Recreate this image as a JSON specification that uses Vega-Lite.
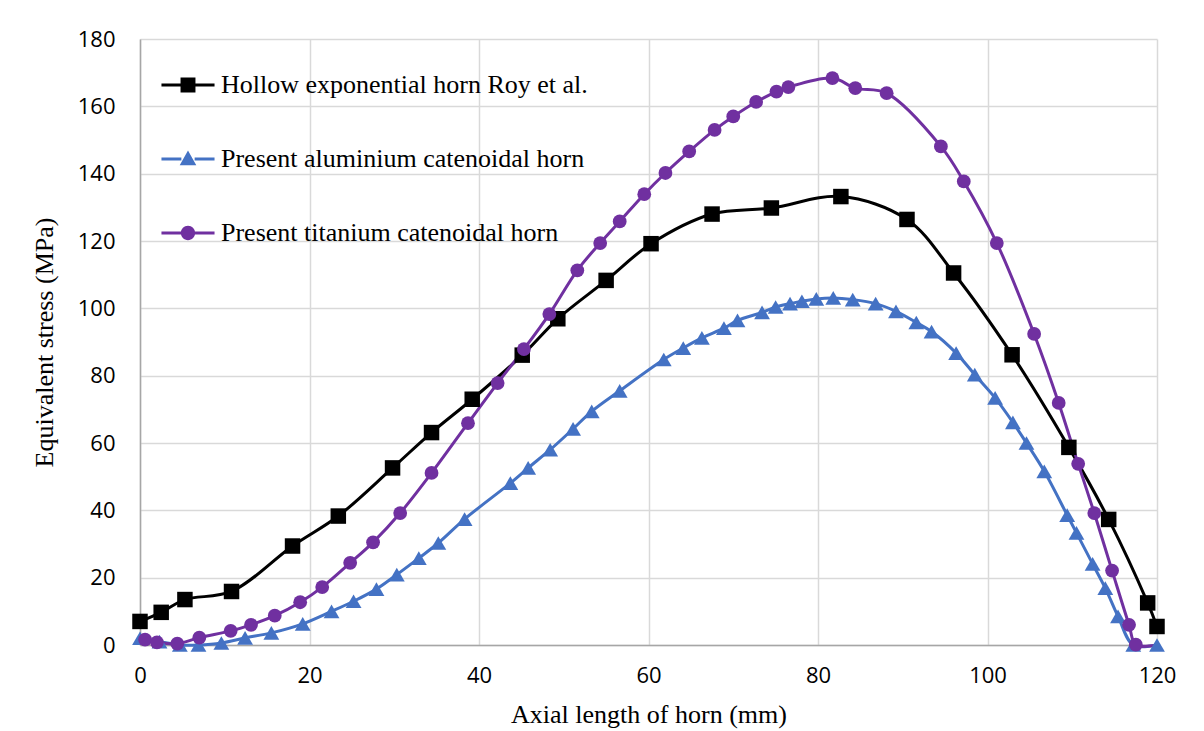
{
  "$schema": "https://vega.github.io/schema/vega-lite/v6.json",
  "width": 1017,
  "height": 606,
  "autosize": {"type": "none"},
  "padding": {"left": 140, "top": 39, "right": 47, "bottom": 86},
  "background": "white",
  "config": {
    "view": {"stroke": null},
    "axis": {
      "grid": true,
      "gridColor": "#d9d9d9",
      "gridWidth": 1.5,
      "domainColor": "#a6a6a6",
      "domainWidth": 1.5,
      "ticks": false,
      "labelFlush": false,
      "labelFont": "Open Sans",
      "labelFontSize": 22,
      "labelColor": "#000000",
      "titleFont": "Liberation Serif",
      "titleFontSize": 26,
      "titleFontWeight": "normal",
      "titleColor": "#000000"
    }
  },
  "data": {
    "values": [
      {"x": 0, "stress": 7.0, "series": "Hollow exponential horn Roy et al."},
      {"x": 2.5, "stress": 9.7, "series": "Hollow exponential horn Roy et al."},
      {"x": 5.3, "stress": 13.5, "series": "Hollow exponential horn Roy et al."},
      {"x": 10.8, "stress": 15.9, "series": "Hollow exponential horn Roy et al."},
      {"x": 18.0, "stress": 29.4, "series": "Hollow exponential horn Roy et al."},
      {"x": 23.4, "stress": 38.3, "series": "Hollow exponential horn Roy et al."},
      {"x": 29.8, "stress": 52.6, "series": "Hollow exponential horn Roy et al."},
      {"x": 34.4, "stress": 63.1, "series": "Hollow exponential horn Roy et al."},
      {"x": 39.2, "stress": 73.0, "series": "Hollow exponential horn Roy et al."},
      {"x": 45.1, "stress": 86.1, "series": "Hollow exponential horn Roy et al."},
      {"x": 49.3, "stress": 96.9, "series": "Hollow exponential horn Roy et al."},
      {"x": 55.0, "stress": 108.3, "series": "Hollow exponential horn Roy et al."},
      {"x": 60.3, "stress": 119.2, "series": "Hollow exponential horn Roy et al."},
      {"x": 67.5, "stress": 128.0, "series": "Hollow exponential horn Roy et al."},
      {"x": 74.5, "stress": 129.8, "series": "Hollow exponential horn Roy et al."},
      {"x": 82.7, "stress": 133.2, "series": "Hollow exponential horn Roy et al."},
      {"x": 90.5, "stress": 126.4, "series": "Hollow exponential horn Roy et al."},
      {"x": 96.0, "stress": 110.5, "series": "Hollow exponential horn Roy et al."},
      {"x": 102.9, "stress": 86.2, "series": "Hollow exponential horn Roy et al."},
      {"x": 109.6, "stress": 58.7, "series": "Hollow exponential horn Roy et al."},
      {"x": 114.3, "stress": 37.3, "series": "Hollow exponential horn Roy et al."},
      {"x": 118.9, "stress": 12.5, "series": "Hollow exponential horn Roy et al."},
      {"x": 120, "stress": 5.5, "series": "Hollow exponential horn Roy et al."},

      {"x": 0, "stress": 2.0, "series": "Present aluminium catenoidal horn"},
      {"x": 2.3, "stress": 1.0, "series": "Present aluminium catenoidal horn"},
      {"x": 4.7, "stress": 0, "series": "Present aluminium catenoidal horn"},
      {"x": 6.9, "stress": 0, "series": "Present aluminium catenoidal horn"},
      {"x": 9.6, "stress": 0.6, "series": "Present aluminium catenoidal horn"},
      {"x": 12.4, "stress": 2.1, "series": "Present aluminium catenoidal horn"},
      {"x": 15.5, "stress": 3.6, "series": "Present aluminium catenoidal horn"},
      {"x": 19.2, "stress": 6.3, "series": "Present aluminium catenoidal horn"},
      {"x": 22.6, "stress": 10.0, "series": "Present aluminium catenoidal horn"},
      {"x": 25.2, "stress": 13.0, "series": "Present aluminium catenoidal horn"},
      {"x": 27.9, "stress": 16.6, "series": "Present aluminium catenoidal horn"},
      {"x": 30.3, "stress": 20.9, "series": "Present aluminium catenoidal horn"},
      {"x": 32.9, "stress": 25.8, "series": "Present aluminium catenoidal horn"},
      {"x": 35.2, "stress": 30.3, "series": "Present aluminium catenoidal horn"},
      {"x": 38.3, "stress": 37.4, "series": "Present aluminium catenoidal horn"},
      {"x": 43.7, "stress": 48.1, "series": "Present aluminium catenoidal horn"},
      {"x": 45.8, "stress": 52.6, "series": "Present aluminium catenoidal horn"},
      {"x": 48.4, "stress": 58.0, "series": "Present aluminium catenoidal horn"},
      {"x": 51.1, "stress": 64.2, "series": "Present aluminium catenoidal horn"},
      {"x": 53.3, "stress": 69.4, "series": "Present aluminium catenoidal horn"},
      {"x": 56.6, "stress": 75.5, "series": "Present aluminium catenoidal horn"},
      {"x": 61.8, "stress": 84.8, "series": "Present aluminium catenoidal horn"},
      {"x": 64.1, "stress": 88.2, "series": "Present aluminium catenoidal horn"},
      {"x": 66.3, "stress": 91.2, "series": "Present aluminium catenoidal horn"},
      {"x": 68.9, "stress": 94.1, "series": "Present aluminium catenoidal horn"},
      {"x": 70.5, "stress": 96.4, "series": "Present aluminium catenoidal horn"},
      {"x": 73.4, "stress": 98.8, "series": "Present aluminium catenoidal horn"},
      {"x": 75.0, "stress": 100.4, "series": "Present aluminium catenoidal horn"},
      {"x": 76.7, "stress": 101.4, "series": "Present aluminium catenoidal horn"},
      {"x": 78.1, "stress": 102.1, "series": "Present aluminium catenoidal horn"},
      {"x": 79.8, "stress": 102.8, "series": "Present aluminium catenoidal horn"},
      {"x": 81.8, "stress": 103.1, "series": "Present aluminium catenoidal horn"},
      {"x": 84.1, "stress": 102.6, "series": "Present aluminium catenoidal horn"},
      {"x": 86.8, "stress": 101.4, "series": "Present aluminium catenoidal horn"},
      {"x": 89.2, "stress": 99.1, "series": "Present aluminium catenoidal horn"},
      {"x": 91.6, "stress": 95.8, "series": "Present aluminium catenoidal horn"},
      {"x": 93.4, "stress": 93.1, "series": "Present aluminium catenoidal horn"},
      {"x": 96.3, "stress": 86.7, "series": "Present aluminium catenoidal horn"},
      {"x": 98.5, "stress": 80.3, "series": "Present aluminium catenoidal horn"},
      {"x": 100.9, "stress": 73.4, "series": "Present aluminium catenoidal horn"},
      {"x": 103.0, "stress": 66.1, "series": "Present aluminium catenoidal horn"},
      {"x": 104.6, "stress": 60.0, "series": "Present aluminium catenoidal horn"},
      {"x": 106.7, "stress": 51.6, "series": "Present aluminium catenoidal horn"},
      {"x": 109.4, "stress": 38.6, "series": "Present aluminium catenoidal horn"},
      {"x": 110.5, "stress": 33.3, "series": "Present aluminium catenoidal horn"},
      {"x": 112.4, "stress": 24.1, "series": "Present aluminium catenoidal horn"},
      {"x": 113.9, "stress": 16.9, "series": "Present aluminium catenoidal horn"},
      {"x": 115.4, "stress": 8.5, "series": "Present aluminium catenoidal horn"},
      {"x": 117.2, "stress": 0, "series": "Present aluminium catenoidal horn"},
      {"x": 120, "stress": 0, "series": "Present aluminium catenoidal horn"},

      {"x": 0.6, "stress": 1.6, "series": "Present titanium catenoidal horn"},
      {"x": 2.0, "stress": 0.8, "series": "Present titanium catenoidal horn"},
      {"x": 4.4, "stress": 0.4, "series": "Present titanium catenoidal horn"},
      {"x": 7.0, "stress": 2.2, "series": "Present titanium catenoidal horn"},
      {"x": 10.7, "stress": 4.2, "series": "Present titanium catenoidal horn"},
      {"x": 13.1, "stress": 6.0, "series": "Present titanium catenoidal horn"},
      {"x": 15.9, "stress": 8.7, "series": "Present titanium catenoidal horn"},
      {"x": 18.9, "stress": 12.7, "series": "Present titanium catenoidal horn"},
      {"x": 21.5, "stress": 17.2, "series": "Present titanium catenoidal horn"},
      {"x": 24.8, "stress": 24.4, "series": "Present titanium catenoidal horn"},
      {"x": 27.5, "stress": 30.5, "series": "Present titanium catenoidal horn"},
      {"x": 30.7, "stress": 39.2, "series": "Present titanium catenoidal horn"},
      {"x": 34.4, "stress": 51.1, "series": "Present titanium catenoidal horn"},
      {"x": 38.7, "stress": 65.9, "series": "Present titanium catenoidal horn"},
      {"x": 42.2, "stress": 77.8, "series": "Present titanium catenoidal horn"},
      {"x": 45.3, "stress": 87.9, "series": "Present titanium catenoidal horn"},
      {"x": 48.3, "stress": 98.3, "series": "Present titanium catenoidal horn"},
      {"x": 51.6, "stress": 111.3, "series": "Present titanium catenoidal horn"},
      {"x": 54.3, "stress": 119.4, "series": "Present titanium catenoidal horn"},
      {"x": 56.6, "stress": 125.8, "series": "Present titanium catenoidal horn"},
      {"x": 59.5, "stress": 133.9, "series": "Present titanium catenoidal horn"},
      {"x": 62.0, "stress": 140.2, "series": "Present titanium catenoidal horn"},
      {"x": 64.8, "stress": 146.6, "series": "Present titanium catenoidal horn"},
      {"x": 67.8, "stress": 153.0, "series": "Present titanium catenoidal horn"},
      {"x": 70.0, "stress": 157.0, "series": "Present titanium catenoidal horn"},
      {"x": 72.7, "stress": 161.3, "series": "Present titanium catenoidal horn"},
      {"x": 75.1, "stress": 164.4, "series": "Present titanium catenoidal horn"},
      {"x": 76.5, "stress": 165.7, "series": "Present titanium catenoidal horn"},
      {"x": 81.7, "stress": 168.4, "series": "Present titanium catenoidal horn"},
      {"x": 84.4, "stress": 165.4, "series": "Present titanium catenoidal horn"},
      {"x": 88.1, "stress": 163.9, "series": "Present titanium catenoidal horn"},
      {"x": 94.5, "stress": 148.1, "series": "Present titanium catenoidal horn"},
      {"x": 97.2, "stress": 137.7, "series": "Present titanium catenoidal horn"},
      {"x": 101.1, "stress": 119.4, "series": "Present titanium catenoidal horn"},
      {"x": 105.5, "stress": 92.4, "series": "Present titanium catenoidal horn"},
      {"x": 108.4, "stress": 71.9, "series": "Present titanium catenoidal horn"},
      {"x": 110.7, "stress": 53.8, "series": "Present titanium catenoidal horn"},
      {"x": 112.6, "stress": 39.2, "series": "Present titanium catenoidal horn"},
      {"x": 114.7, "stress": 22.1, "series": "Present titanium catenoidal horn"},
      {"x": 116.7, "stress": 6.0, "series": "Present titanium catenoidal horn"},
      {"x": 117.5, "stress": 0.1, "series": "Present titanium catenoidal horn"},
      {"x": 120, "stress": 0, "series": "Present titanium catenoidal horn"}
    ]
  },
  "encoding": {
    "x": {
      "field": "x", "type": "quantitative",
      "scale": {"domain": [0, 120], "nice": false, "zero": false},
      "axis": {"values": [0, 20, 40, 60, 80, 100, 120], "title": "Axial length of horn (mm)", "labelPadding": 20, "titlePadding": 15}
    },
    "y": {
      "field": "stress", "type": "quantitative",
      "scale": {"domain": [0, 180], "nice": false},
      "axis": {"values": [0, 20, 40, 60, 80, 100, 120, 140, 160, 180], "title": "Equivalent stress (MPa)", "labelPadding": 25, "titlePadding": 20}
    },
    "color": {
      "field": "series", "type": "nominal",
      "scale": {
        "domain": ["Hollow exponential horn Roy et al.", "Present aluminium catenoidal horn", "Present titanium catenoidal horn"],
        "range": ["#000000", "#4472c4", "#7030a0"]
      },
      "legend": {
        "title": null,
        "orient": "none",
        "legendX": 31,
        "legendY": 29,
        "padding": 0,
        "labelFont": "Liberation Serif",
        "labelFontSize": 26,
        "labelColor": "#000000",
        "labelOffset": 16,
        "rowPadding": 44,
        "symbolSize": 1100,
        "symbolStrokeWidth": 0,
        "symbolOpacity": 1,
        "labelLimit": 600
      }
    }
  },
  "layer": [
    {
      "mark": {"type": "line", "strokeWidth": 3, "interpolate": "catmull-rom", "clip": false}
    },
    {
      "transform": [{"filter": "datum.series === 'Hollow exponential horn Roy et al.'"}],
      "mark": {"type": "point", "shape": "square", "filled": true, "opacity": 1, "size": 240, "clip": false}
    },
    {
      "transform": [{"filter": "datum.series === 'Present aluminium catenoidal horn'"}],
      "mark": {"type": "point", "shape": "triangle-up", "filled": true, "opacity": 1, "size": 250, "clip": false}
    },
    {
      "transform": [{"filter": "datum.series === 'Present titanium catenoidal horn' && datum.x < 119.9"}],
      "mark": {"type": "point", "shape": "circle", "filled": true, "opacity": 1, "size": 190, "clip": false}
    },
    {
      "mark": {"type": "point", "filled": true, "opacity": 1, "size": 0},
      "encoding": {
        "shape": {
          "field": "series", "type": "nominal",
          "scale": {
            "domain": ["Hollow exponential horn Roy et al.", "Present aluminium catenoidal horn", "Present titanium catenoidal horn"],
            "range": [
              "M-1.6,-0.09H-0.4V0.09H-1.6Z M0.4,-0.09H1.6V0.09H0.4Z M-0.45,-0.45H0.45V0.45H-0.45Z",
              "M-1.6,-0.09H-0.4V0.09H-1.6Z M0.4,-0.09H1.6V0.09H0.4Z M0,-0.52L0.5,0.38H-0.5Z",
              "M-1.6,-0.09H-0.4V0.09H-1.6Z M0.4,-0.09H1.6V0.09H0.4Z M0.43,0A0.43,0.43 0 1,1 -0.43,0A0.43,0.43 0 1,1 0.43,0Z"
            ]
          },
          "legend": {"title": null}
        }
      }
    }
  ]
}
